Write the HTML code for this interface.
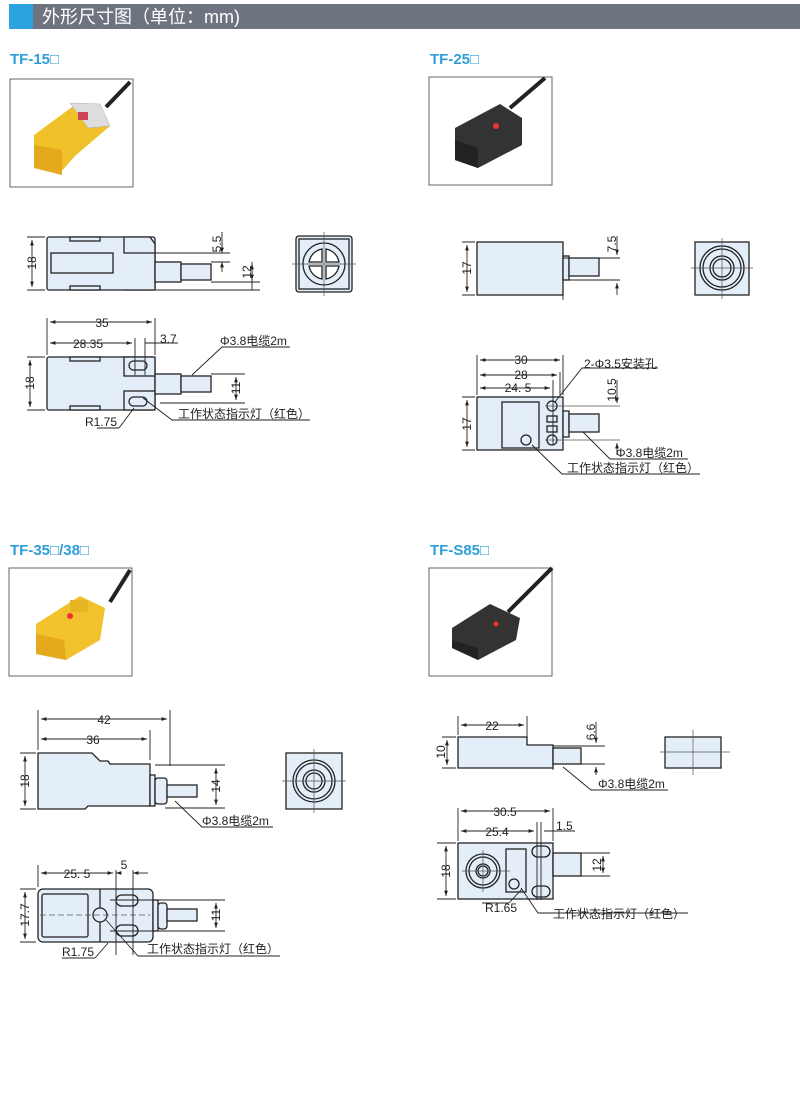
<!DOCTYPE html>
<html><head><meta charset="utf-8"><style>
body{margin:0;background:#fff;width:800px;height:1089px;overflow:hidden}
svg text{font-family:"Liberation Sans","Noto Sans CJK SC",sans-serif;fill:#222}
</style></head><body>
<svg width="800" height="1089" viewBox="0 0 800 1089" xmlns="http://www.w3.org/2000/svg">
<defs>
<marker id="a" viewBox="0 0 10 10" refX="10" refY="5" markerWidth="6" markerHeight="6" orient="auto-start-reverse"><path d="M0,1.5L10,5L0,8.5z" fill="#222"/></marker>
</defs>
<rect x="9" y="4" width="24" height="25" fill="#2aa3df"/>
<rect x="33" y="4" width="767" height="25" fill="#6e7380"/>
<text x="42" y="23" font-size="18" style="fill:#fff">外形尺寸图（单位：mm)</text>
<g font-size="15" font-weight="bold">
<text x="10" y="64" style="fill:#2e9fd8">TF-15□</text>
<text x="430" y="64" style="fill:#2e9fd8">TF-25□</text>
<text x="10" y="555" style="fill:#2e9fd8">TF-35□/38□</text>
<text x="430" y="555" style="fill:#2e9fd8">TF-S85□</text>
</g>
<g fill="#fff" stroke="#666" stroke-width="1">
<rect x="10" y="79" width="123" height="108"/>
<rect x="429" y="77" width="123" height="108"/>
<rect x="9" y="568" width="123" height="108"/>
<rect x="429" y="568" width="123" height="108"/>
</g>
<path d="M106,107 L130,82" stroke="#222" stroke-width="4"/>
<path d="M34,135 L72,107 L102,110 L110,126 L75,156 L60,173 L34,168z" fill="#f1c12a"/>
<path d="M34,145 L62,150 L62,175 L34,168z" fill="#e4a91c"/>
<path d="M70,103 L100,104 L110,126 L88,128z" fill="#ddd" stroke="#aaa" stroke-width=".5"/>
<rect x="78" y="112" width="10" height="8" fill="#c45"/>
<path d="M510,108 L545,78" stroke="#222" stroke-width="4"/>
<path d="M455,128 L500,104 L522,118 L522,145 L478,168 L455,160z" fill="#333"/>
<path d="M455,140 L478,148 L478,168 L455,160z" fill="#222"/>
<circle cx="496" cy="126" r="3" fill="#e33"/>
<path d="M110,602 L130,570" stroke="#222" stroke-width="4"/>
<path d="M36,624 L80,596 L105,608 L100,640 L66,660 L36,654z" fill="#f2c22c"/>
<path d="M36,634 L64,640 L66,660 L36,654z" fill="#e4a91c"/>
<circle cx="70" cy="616" r="3" fill="#e33"/>
<rect x="70" y="600" width="18" height="12" fill="#e8b524"/>
<path d="M508,612 L552,568" stroke="#222" stroke-width="4"/>
<path d="M452,628 L490,604 L520,618 L516,640 L478,660 L452,648z" fill="#333"/>
<path d="M452,640 L478,648 L478,660 L452,648z" fill="#222"/>
<circle cx="496" cy="624" r="2.5" fill="#e33"/>

<g stroke="#222" stroke-width="1.3" fill="#e4eef8">
<rect x="47" y="237" width="108" height="53" rx="2"/>
<path d="M124,237 L150,237 L155,244 L155,290 L124,290" fill="#e4eef8"/>
<path d="M124,237 L124,253 L155,253" fill="none"/>
<rect x="51" y="253" width="62" height="20"/>
<rect x="70" y="237" width="30" height="4"/><rect x="70" y="286" width="30" height="4"/>
<rect x="155" y="262" width="26" height="20"/><rect x="181" y="264" width="30" height="16"/>
<rect x="296" y="236" width="56" height="56" rx="3"/>
<rect x="299" y="239" width="50" height="50" fill="none"/>
<circle cx="324" cy="264" r="21"/>
<path d="M309,262 A16,16 0 0 1 322,249 L322,262z M326,249 A16,16 0 0 1 339,262 L326,262z M309,266 L322,266 L322,279 A16,16 0 0 1 309,266z M326,266 L339,266 A16,16 0 0 1 326,279z" fill="#fff"/>
<rect x="47" y="357" width="108" height="53" rx="2"/>
<rect x="124" y="357" width="31" height="19"/><rect x="124" y="391" width="31" height="19"/>
<rect x="129" y="361" width="18" height="9" rx="4.5"/><rect x="129" y="397" width="18" height="9" rx="4.5"/>
<rect x="70" y="357" width="30" height="4"/><rect x="70" y="406" width="30" height="4"/>
<rect x="155" y="374" width="26" height="20"/><rect x="181" y="376" width="30" height="16"/>
<rect x="477" y="242" width="86" height="53"/>
<rect x="563" y="256" width="6" height="24"/><rect x="569" y="258" width="30" height="18"/>
<rect x="695" y="242" width="54" height="53"/>
<circle cx="722" cy="268" r="22"/><circle cx="722" cy="268" r="19"/>
<circle cx="722" cy="268" r="12"/><circle cx="722" cy="268" r="9"/>
<rect x="477" y="397" width="86" height="53"/>
<rect x="502" y="402" width="37" height="46"/>
<circle cx="552" cy="406" r="5"/><circle cx="552" cy="440" r="5"/><circle cx="526" cy="440" r="5"/>
<rect x="547" y="416" width="10" height="6"/><rect x="547" y="426" width="10" height="6"/>
<rect x="563" y="411" width="6" height="26"/><rect x="569" y="414" width="30" height="18"/>
<path d="M38,753 L92,753 L100,761 L108,761 L110,764 L150,764 L150,806 L88,806 L85,809 L38,809z"/>
<rect x="150" y="775" width="5" height="31"/><rect x="155" y="778" width="12" height="26" rx="3"/>
<rect x="167" y="785" width="30" height="12"/>
<rect x="286" y="753" width="56" height="56"/>
<circle cx="314" cy="781" r="21"/><circle cx="314" cy="781" r="18"/>
<circle cx="314" cy="781" r="11"/><circle cx="314" cy="781" r="8"/>
<rect x="38" y="889" width="115" height="53" rx="5"/>
<rect x="42" y="894" width="46" height="43" rx="2"/>
<path d="M100,889 L100,942" fill="none"/>
<circle cx="100" cy="915" r="7"/>
<rect x="116" y="895" width="22" height="11" rx="5.5"/><rect x="116" y="925" width="22" height="11" rx="5.5"/>
<rect x="153" y="900" width="5" height="31"/><rect x="158" y="903" width="9" height="26" rx="3"/>
<rect x="167" y="909" width="30" height="12"/>
<path d="M458,737 L527,737 L527,745 L553,745 L553,768 L458,768z"/>
<rect x="553" y="748" width="28" height="16"/>
<rect x="665" y="737" width="56" height="31"/>
<rect x="458" y="843" width="95" height="56"/>
<circle cx="483" cy="871" r="17"/><circle cx="483" cy="871" r="14"/>
<circle cx="483" cy="871" r="7"/><circle cx="483" cy="871" r="5"/>
<rect x="506" y="849" width="20" height="43"/>
<circle cx="514" cy="884" r="5"/>
<rect x="532" y="846" width="18" height="11" rx="5.5"/><rect x="532" y="886" width="18" height="11" rx="5.5"/>
<rect x="553" y="853" width="28" height="23"/>
</g>

<g stroke="#555" stroke-width=".7" fill="none">
<path d="M292,264 H356 M324,232 V296"/>
<path d="M691,268 H753 M722,238 V299"/>
<path d="M282,781 H346 M314,749 V813"/>
<path d="M660,752 H730 M693,730 V775"/>
<path d="M462,871 H510 M483,850 V892"/>
<path d="M40,915 H150" stroke-dasharray="6 3"/>
<path d="M545,406 H620 M545,440 H620"/>
</g>

<g stroke="#222" stroke-width=".9" fill="none">
<path d="M27,237 H45 M27,290 H45"/><path d="M32,240 V287" marker-start="url(#a)" marker-end="url(#a)"/>
<path d="M155,253 H230 M211,262 H230 M211,282 H260 M155,290 H260"/>
<path d="M222,232 V253"/><path d="M222,242 V253" marker-end="url(#a)"/><path d="M222,272 V262" marker-end="url(#a)"/>
<path d="M252,264 V282" marker-start="url(#a)"/><path d="M252,290 V282"/><path d="M252,280 V262" marker-start="url(#a)"/>
<path d="M47,318 V355 M155,318 V355 M135,338 V375 M145,338 V375"/>
<path d="M50,322 H152" marker-start="url(#a)" marker-end="url(#a)"/>
<path d="M50,343 H132" marker-start="url(#a)" marker-end="url(#a)"/>
<path d="M145,343 H178"/>
<path d="M27,357 H45 M27,410 H45"/><path d="M30,360 V407" marker-start="url(#a)" marker-end="url(#a)"/>
<path d="M211,374 H245 M160,403 H245"/><path d="M236,377 V400" marker-start="url(#a)" marker-end="url(#a)"/>
<path d="M192,375 L222,347 H290"/>
<path d="M119,428 L134,408 M97,428 H119"/>
<path d="M143,398 L172,420 H310"/>
<path d="M462,242 H475 M462,295 H475"/><path d="M467,245 V292" marker-start="url(#a)" marker-end="url(#a)"/>
<path d="M563,258 H620 M563,280 H620 M563,295 V300"/>
<path d="M617,236 V255" marker-end="url(#a)"/><path d="M617,295 V283" marker-end="url(#a)"/>
<path d="M477,355 V395 M563,355 V395 M560,372 V395 M553,380 V445"/>
<path d="M480,360 H560" marker-start="url(#a)" marker-end="url(#a)"/>
<path d="M480,375 H557" marker-start="url(#a)" marker-end="url(#a)"/>
<path d="M480,388 H550" marker-start="url(#a)" marker-end="url(#a)"/>
<path d="M462,397 H475 M462,450 H475"/><path d="M467,400 V447" marker-start="url(#a)" marker-end="url(#a)"/>
<path d="M617,380 V403" marker-end="url(#a)"/><path d="M617,455 V443" marker-end="url(#a)"/>
<path d="M555,402 L582,368 H658"/>
<path d="M583,432 L610,459 H688"/>
<path d="M532,445 L562,474 H700"/>
<path d="M38,710 V750 M170,710 V766 M150,730 V760"/>
<path d="M41,719 H167" marker-start="url(#a)" marker-end="url(#a)"/>
<path d="M41,739 H147" marker-start="url(#a)" marker-end="url(#a)"/>
<path d="M20,753 H36 M20,809 H36"/><path d="M25,756 V806" marker-start="url(#a)" marker-end="url(#a)"/>
<path d="M155,765 H225 M165,808 H225"/><path d="M216,768 V805" marker-start="url(#a)" marker-end="url(#a)"/>
<path d="M175,801 L202,827 H273"/>
<path d="M38,865 V887 M116,870 V955 M133,870 V955"/>
<path d="M41,873 H113" marker-start="url(#a)" marker-end="url(#a)"/>
<path d="M120,873 H116" marker-end="url(#a)"/><path d="M148,873 H133" marker-end="url(#a)"/>
<path d="M20,889 H36 M20,942 H36"/><path d="M25,892 V939" marker-start="url(#a)" marker-end="url(#a)"/>
<path d="M110,900 H225 M110,931 H225"/><path d="M216,903 V928" marker-start="url(#a)" marker-end="url(#a)"/>
<path d="M95,958 L108,943 M62,958 H95"/>
<path d="M106,920 L138,956 H280"/>
<path d="M458,716 V735 M527,716 V743"/>
<path d="M461,725 H524" marker-start="url(#a)" marker-end="url(#a)"/>
<path d="M442,737 H456 M442,768 H456"/><path d="M447,740 V765" marker-start="url(#a)" marker-end="url(#a)"/>
<path d="M553,746 H605 M581,764 H605 M553,768 V770"/>
<path d="M596,722 V743" marker-end="url(#a)"/><path d="M596,775 V767" marker-end="url(#a)"/>
<path d="M563,767 L591,790 H668"/>
<path d="M458,808 V841 M553,808 V841 M537,822 V900 M541,822 V900"/>
<path d="M461,811 H550" marker-start="url(#a)" marker-end="url(#a)"/>
<path d="M461,831 H534" marker-start="url(#a)" marker-end="url(#a)"/>
<path d="M544,831 H575"/>
<path d="M437,843 H456 M437,899 H456"/><path d="M446,846 V896" marker-start="url(#a)" marker-end="url(#a)"/>
<path d="M553,853 H610 M553,876 H610"/><path d="M603,856 V873" marker-start="url(#a)" marker-end="url(#a)"/>
<path d="M521,888 L538,913 H688"/>
<path d="M509,903 L522,889 M482,903 H509"/>
</g>

<g font-size="12">
<text x="102" y="327" text-anchor="middle">35</text>
<text x="88" y="348" text-anchor="middle">28.35</text>
<text x="160" y="343">3.7</text>
<text x="220" y="345">Φ3.8电缆2m</text>
<text x="85" y="426">R1.75</text>
<text x="178" y="418">工作状态指示灯（红色）</text>
<text x="521" y="364" text-anchor="middle">30</text>
<text x="521" y="379" text-anchor="middle">28</text>
<text x="518" y="392" text-anchor="middle">24. 5</text>
<text x="584" y="368">2-Φ3.5安装孔</text>
<text x="616" y="457">Φ3.8电缆2m</text>
<text x="567" y="472">工作状态指示灯（红色）</text>
<text x="104" y="724" text-anchor="middle">42</text>
<text x="93" y="744" text-anchor="middle">36</text>
<text x="202" y="825">Φ3.8电缆2m</text>
<text x="77" y="878" text-anchor="middle">25. 5</text>
<text x="124" y="869" text-anchor="middle">5</text>
<text x="62" y="956">R1.75</text>
<text x="147" y="953">工作状态指示灯（红色）</text>
<text x="492" y="730" text-anchor="middle">22</text>
<text x="598" y="788">Φ3.8电缆2m</text>
<text x="505" y="816" text-anchor="middle">30.5</text>
<text x="497" y="836" text-anchor="middle">25.4</text>
<text x="556" y="830">1.5</text>
<text x="485" y="912">R1.65</text>
<text x="553" y="918">工作状态指示灯（红色）</text>
</g>
<g font-size="12">
<text transform="translate(36,263) rotate(-90)" text-anchor="middle">18</text>
<text transform="translate(221,244) rotate(-90)" text-anchor="middle">5.5</text>
<text transform="translate(251,272) rotate(-90)" text-anchor="middle">12</text>
<text transform="translate(34,383) rotate(-90)" text-anchor="middle">18</text>
<text transform="translate(240,388) rotate(-90)" text-anchor="middle">11</text>
<text transform="translate(471,268) rotate(-90)" text-anchor="middle">17</text>
<text transform="translate(616,244) rotate(-90)" text-anchor="middle">7.5</text>
<text transform="translate(471,424) rotate(-90)" text-anchor="middle">17</text>
<text transform="translate(616,390) rotate(-90)" text-anchor="middle">10.5</text>
<text transform="translate(29,781) rotate(-90)" text-anchor="middle">18</text>
<text transform="translate(220,786) rotate(-90)" text-anchor="middle">14</text>
<text transform="translate(29,915) rotate(-90)" text-anchor="middle">17.7</text>
<text transform="translate(220,915) rotate(-90)" text-anchor="middle">11</text>
<text transform="translate(445,752) rotate(-90)" text-anchor="middle">10</text>
<text transform="translate(595,732) rotate(-90)" text-anchor="middle">6.6</text>
<text transform="translate(450,871) rotate(-90)" text-anchor="middle">18</text>
<text transform="translate(601,865) rotate(-90)" text-anchor="middle">12</text>
</g>
</svg>
</body></html>
